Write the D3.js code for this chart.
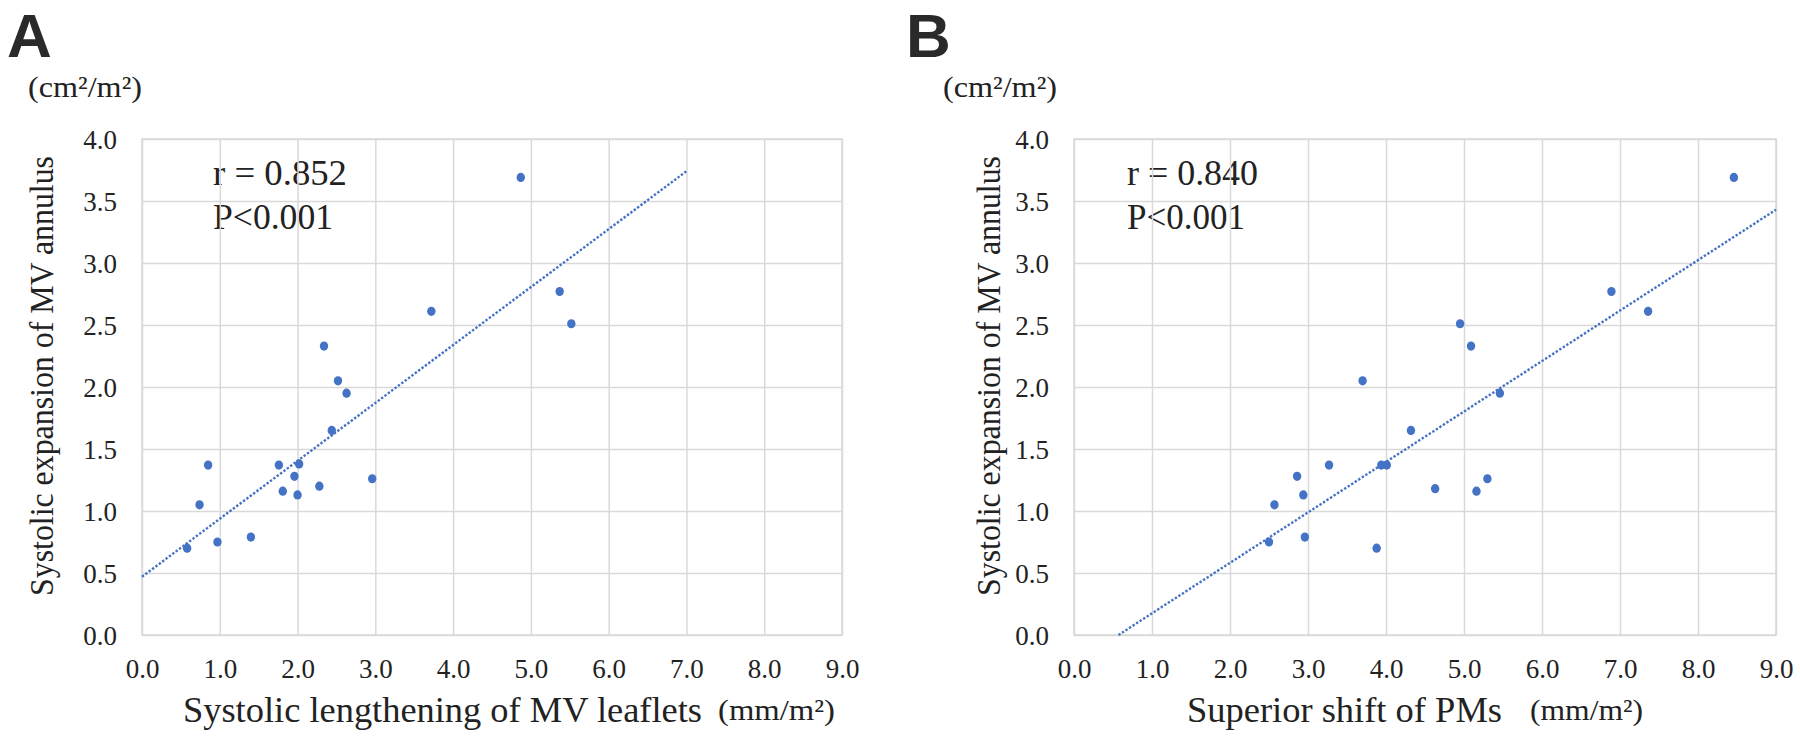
<!DOCTYPE html>
<html>
<head>
<meta charset="utf-8">
<script src="https://cdn.jsdelivr.net/npm/d3@7"></script>
<style>
  body { margin: 0; background: #ffffff; }
  svg { display: block; }
  text { font-family: "Liberation Serif", "Times New Roman", serif; fill: #222222; }
</style>
</head>
<body>
<svg id="chart" width="1800" height="736"></svg>
<script>
// ---------- data ----------
const xTickValues = [0, 1, 2, 3, 4, 5, 6, 7, 8, 9];
const yTickValues = [0, 0.5, 1, 1.5, 2, 2.5, 3, 3.5, 4];

// Panel A: systolic lengthening of MV leaflets (mm/m²) vs systolic expansion of MV annulus (cm²/m²)
const leafletLengthening = [4.87, 5.37, 5.52, 3.72, 2.34, 2.52, 2.63, 2.44, 0.85, 1.76, 2.02, 1.96, 2.96, 2.28, 1.81, 2.00, 0.74, 1.40, 0.97, 0.58];
const annulusExpansionA  = [3.69, 2.77, 2.51, 2.61, 2.33, 2.05, 1.95, 1.65, 1.37, 1.37, 1.38, 1.28, 1.26, 1.20, 1.16, 1.13, 1.05, 0.79, 0.75, 0.70];

// Panel B: superior shift of PMs (mm/m²) vs systolic expansion of MV annulus (cm²/m²)
const pmShift            = [8.46, 6.89, 7.36, 4.95, 5.09, 3.70, 5.46, 4.32, 3.27, 3.94, 4.01, 2.86, 5.30, 4.63, 5.16, 2.94, 2.57, 2.50, 2.96, 3.88];
const annulusExpansionB  = [3.69, 2.77, 2.61, 2.51, 2.33, 2.05, 1.95, 1.65, 1.37, 1.37, 1.37, 1.28, 1.26, 1.18, 1.16, 1.13, 1.05, 0.75, 0.79, 0.70];

// trendline end points: [x, y]
const trendA = [[0, 0.47], [7, 3.74]];
const trendB = [[0.57, 0], [9, 3.43]];

const panelLetters = ["A", "B"];
const xTitles = ["Systolic lengthening of MV leaflets", "Superior shift of PMs"];
const xUnit = "(mm/m²)";
const yTitle = "Systolic expansion of MV annulus";
const yUnit = "(cm²/m²)";
const rLabels = ["r = 0.852", "r = 0.840"];
const pLabels = ["P<0.001", "P<0.001"];

// ---------- layout ----------
const svg = d3.select("#chart");
const fmt = d3.format(".1f");
const gridColor = "#d9d9d9";
const dotColor = "#4472c4";

const panels = [
  { xs: leafletLengthening, ys: annulusExpansionA, trend: trendA,
    left: 142, right: 842, letterX: 7, unitX: 28, yTitleX: 53,
    xTitleX: 183, xTitleW: 519, xUnitX: 718, xUnitW: 117,
    statX: 213, rW: 134, pW: 120 },
  { xs: pmShift, ys: annulusExpansionB, trend: trendB,
    left: 1074, right: 1776, letterX: 906, unitX: 943, yTitleX: 1000,
    xTitleX: 1187, xTitleW: 315, xUnitX: 1530, xUnitW: 113,
    statX: 1127, rW: 131, pW: 118 }
];
const plotTop = 139, plotBottom = 635;

panels.forEach((p, i) => {
  const x = d3.scaleLinear().domain([0, 9]).range([p.left, p.right]);
  const y = d3.scaleLinear().domain([0, 4]).range([plotBottom, plotTop]);
  const g = svg.append("g");

  // panel letter
  g.append("text").attr("x", p.letterX).attr("y", 57)
    .style("font-family", '"Liberation Sans", Arial, sans-serif')
    .style("font-weight", "bold").style("font-size", "62px").style("fill", "#2a2a2a")
    .text(panelLetters[i]);

  // y unit
  g.append("text").attr("x", p.unitX).attr("y", 97)
    .style("font-size", "30px").attr("textLength", 114).attr("lengthAdjust", "spacingAndGlyphs")
    .text(yUnit);

  // stats text (under the grid)
  g.append("text").attr("x", p.statX).attr("y", 185).style("font-size", "35px")
    .attr("textLength", p.rW).attr("lengthAdjust", "spacingAndGlyphs").text(rLabels[i]);
  g.append("text").attr("x", p.statX).attr("y", 229).style("font-size", "35px")
    .attr("textLength", p.pW).attr("lengthAdjust", "spacingAndGlyphs").text(pLabels[i]);

  // grid
  const gx = g.append("g").attr("transform", `translate(0,${plotBottom})`)
    .call(d3.axisBottom(x).tickValues(xTickValues).tickSize(-(plotBottom - plotTop)).tickFormat(""));
  const gy = g.append("g").attr("transform", `translate(${p.left},0)`)
    .call(d3.axisLeft(y).tickValues(yTickValues).tickSize(-(p.right - p.left)).tickFormat(""));
  [gx, gy].forEach(a => {
    a.select(".domain").remove();
    a.selectAll("line").attr("stroke", gridColor).attr("stroke-width", 1.5);
  });
  g.append("rect").attr("x", x(0)).attr("y", y(4))
    .attr("width", x(9) - x(0)).attr("height", y(0) - y(4))
    .attr("fill", "none").attr("stroke", gridColor).attr("stroke-width", 1.5);

  // tick labels
  const lx = g.append("g").attr("transform", `translate(0,${plotBottom})`)
    .call(d3.axisBottom(x).tickValues(xTickValues).tickSize(0).tickFormat(fmt));
  lx.select(".domain").remove();
  lx.selectAll("text").attr("dy", null).attr("y", 43)
    .style("font-size", "27px").style("font-family", '"Liberation Serif", serif').attr("fill", "#222222");

  const ly = g.append("g").attr("transform", `translate(${p.left},0)`)
    .call(d3.axisLeft(y).tickValues(yTickValues).tickSize(0).tickPadding(25).tickFormat(fmt));
  ly.select(".domain").remove();
  ly.selectAll("text").attr("dy", "0.34em")
    .style("font-size", "27px").style("font-family", '"Liberation Serif", serif').attr("fill", "#222222");

  // axis titles
  g.append("text")
    .attr("transform", `translate(${p.yTitleX},376) rotate(-90)`)
    .attr("text-anchor", "middle").style("font-size", "33px")
    .attr("textLength", 440).attr("lengthAdjust", "spacingAndGlyphs")
    .text(yTitle);
  g.append("text").attr("x", p.xTitleX).attr("y", 722).style("font-size", "35px")
    .attr("textLength", p.xTitleW).attr("lengthAdjust", "spacingAndGlyphs").text(xTitles[i]);
  g.append("text").attr("x", p.xUnitX).attr("y", 720).style("font-size", "30px")
    .attr("textLength", p.xUnitW).attr("lengthAdjust", "spacingAndGlyphs").text(xUnit);

  // trendline
  g.append("line")
    .attr("x1", x(p.trend[0][0])).attr("y1", y(p.trend[0][1]))
    .attr("x2", x(p.trend[1][0])).attr("y2", y(p.trend[1][1]))
    .attr("stroke", dotColor).attr("stroke-width", 2.4)
    .attr("stroke-dasharray", "2.4,1.8");

  // points
  g.append("g").selectAll("ellipse")
    .data(p.xs.map((v, k) => [v, p.ys[k]]))
    .join("ellipse")
    .attr("cx", d => x(d[0])).attr("cy", d => y(d[1]))
    .attr("rx", 4.2).attr("ry", 4.6)
    .attr("fill", dotColor);
});
</script>
</body>
</html>
